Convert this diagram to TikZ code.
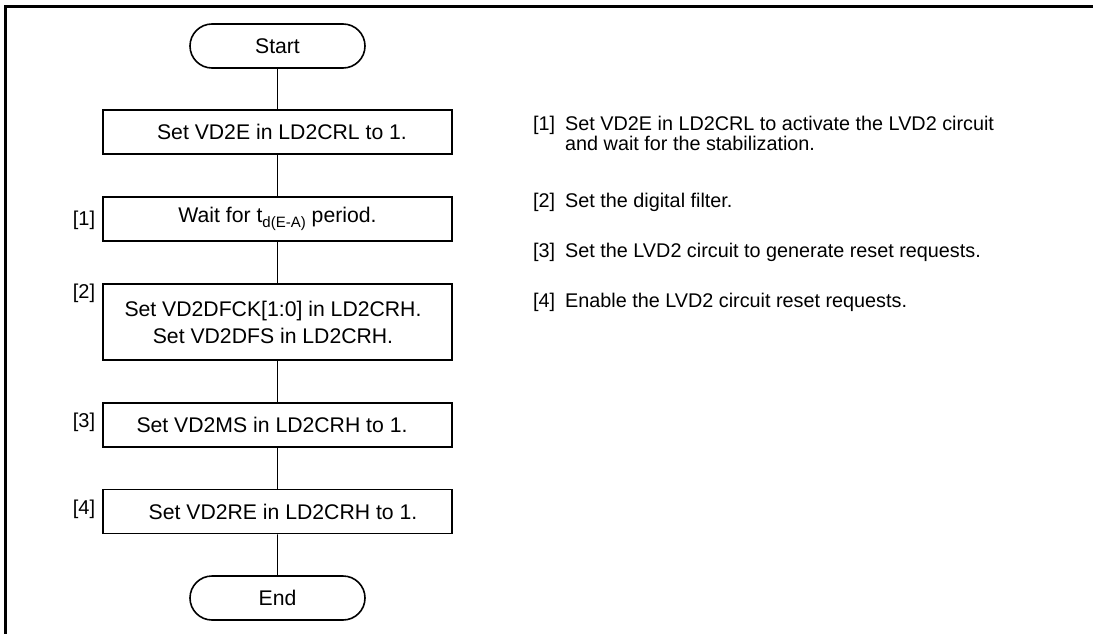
\documentclass[tikz,border=0pt]{standalone}
\usepackage{fontspec}
\setmainfont{Liberation Sans}
\usetikzlibrary{shapes.misc}
\begin{document}
\begin{tikzpicture}[x=1pt,y=-1pt,
  box/.style={draw,line width=1.6pt,minimum width=349pt,minimum height=44pt,inner sep=0pt,
    font=\fontsize{21.2}{27}\selectfont,align=center},
  term/.style={draw,line width=1.6pt,rounded rectangle,minimum width=175pt,minimum height=44pt,
    inner sep=0pt,font=\fontsize{21.2}{27}\selectfont},
  conn/.style={line width=0.9pt},
  lbl/.style={font=\fontsize{20}{24}\selectfont,inner sep=0pt},
  note/.style={font=\fontsize{19.8}{24}\selectfont,inner sep=0pt,anchor=base west}]
\useasboundingbox (0,0) rectangle (1093,634);
\draw[line width=2.6pt] (5.5,634) -- (5.5,6.5) -- (1093,6.5);

\node[term] (start) at (277.5,46) {Start};
\node[box] (b1) at (277.5,132) {\hspace*{9pt}Set VD2E in LD2CRL to 1.};
\node[box] (b2) at (277.5,219) {Wait for t\raisebox{-0.45ex}{\fontsize{15}{15}\selectfont d(E-A)} period.};
\node[box,minimum height=76pt] (b3) at (277.5,322) {Set VD2DFCK[1:0] in LD2CRH.\hspace*{9pt}\\Set VD2DFS in LD2CRH.\hspace*{9pt}};
\node[box] (b4) at (277.5,425) {Set VD2MS in LD2CRH to 1.\hspace*{11pt}};
\node[box] (b5) at (277.5,511.5) {\hspace*{11pt}Set VD2RE in LD2CRH to 1.};
\node[term] (end) at (277.5,598) {End};

\draw[conn] (start) -- (b1);
\draw[conn] (b1) -- (b2);
\draw[conn] (b2) -- (b3);
\draw[conn] (b3) -- (b4);
\draw[conn] (b4) -- (b5);
\draw[conn] (b5) -- (end);

\node[lbl] (l1) at (84,220) {[1]};
\node[lbl] (l2) at (84,293) {[2]};
\node[lbl] (l3) at (84,422) {[3]};
\node[lbl] (l4) at (84,509) {[4]};

\node[note] (n1) at (533,130) {[1]};
\node[note] (t1) at (565,130) {Set VD2E in LD2CRL to activate the LVD2 circuit};
\node[note] (t1b) at (565,150) {and wait for the stabilization.};
\node[note] (n2) at (533,207) {[2]};
\node[note] (t2) at (565,207) {Set the digital filter.};
\node[note] (n3) at (533,257) {[3]};
\node[note] (t3) at (565,257) {Set the LVD2 circuit to generate reset requests.};
\node[note] (n4) at (533,307) {[4]};
\node[note] (t4) at (565,307) {Enable the LVD2 circuit reset requests.};
\end{tikzpicture}
\end{document}
